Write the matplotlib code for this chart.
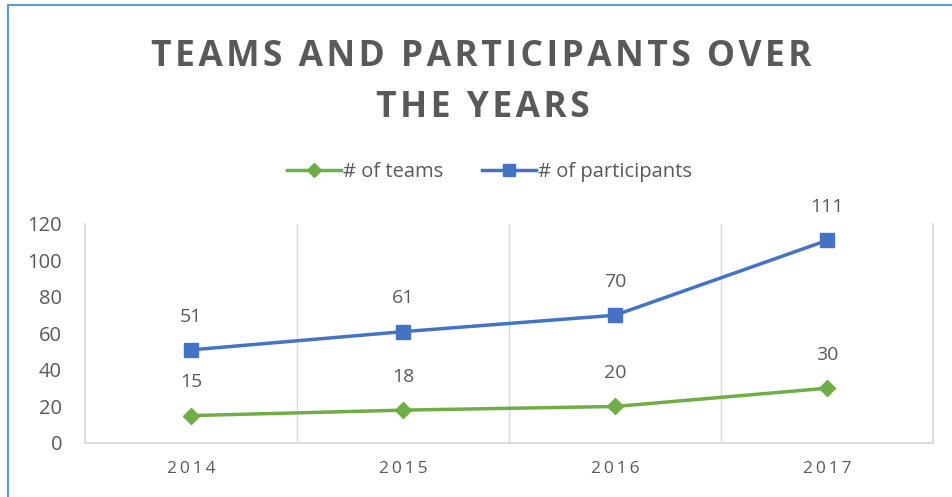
"""
Teams and participants over the years, drawn as a two-series line chart.
"""

import matplotlib
import matplotlib.pyplot as plt
from matplotlib.lines import Line2D

matplotlib.use('Agg')

years = ["2014", "2015", "2016", "2017"]
teams = [15, 18, 20, 30]
participants = [51, 61, 70, 111]
y_ticks = [0, 20, 40, 60, 80, 100, 120]

TEXT_GREY = "#595959"
GRID_GREY = "#D9D9D9"
GREEN = "#70AD47"
BLUE = "#4472C4"
FAMILY = ["Open Sans", "DejaVu Sans"]


def spaced(text, gap="\u200a"):
    """Put a small space between letters to mimic letter spacing."""
    return gap.join(text)


def plot_chart():
    fig = plt.figure(figsize=(9.52, 4.97), dpi=100)
    ax = fig.add_axes([0.0893, 0.1087, 0.8907, 0.4406])

    x = range(len(years))
    ax.plot(x, teams, color=GREEN, lw=2.5, marker="D", ms=8.5,
            label="# of teams", zorder=3)
    ax.plot(x, participants, color=BLUE, lw=2.5, marker="s", ms=10.5,
            label="# of participants", zorder=3)

    for series in (teams, participants):
        for i, v in enumerate(series):
            ax.annotate(str(v), (i, v), xytext=(0, 24), textcoords="offset points",
                        ha="center", va="center", fontsize=14, color=TEXT_GREY,
                        family=FAMILY)

    ax.set_xlim(-0.5, len(years) - 0.5)
    ax.set_ylim(0, 120)
    ax.set_yticks(y_ticks)
    ax.set_yticklabels([str(t) for t in y_ticks], fontsize=14.5, color=TEXT_GREY,
                       family=FAMILY)
    ax.set_xticks(list(x))
    ax.set_xticklabels([spaced(y, "\u2009") for y in years], fontsize=12.5,
                       color=TEXT_GREY, family=FAMILY)
    ax.tick_params(axis="both", length=0)
    ax.tick_params(axis="y", pad=16.5)
    ax.tick_params(axis="x", pad=13)

    for b in [i + 0.5 for i in range(len(years) - 1)]:
        ax.axvline(b, color=GRID_GREY, lw=1, zorder=1)
    ax.spines["top"].set_visible(False)
    for side in ["left", "right", "bottom"]:
        ax.spines[side].set_color(GRID_GREY)
        ax.spines[side].set_linewidth(1.3)

    handles = [
        Line2D([], [], color=GREEN, lw=2.5, marker="D", ms=7),
        Line2D([], [], color=BLUE, lw=2.5, marker="s", ms=9),
    ]
    fig.legend(handles, ["# of teams", "# of participants"], loc="center",
               bbox_to_anchor=(0.514, 0.654), ncol=2, frameon=False,
               prop={"family": FAMILY, "size": 14.5}, labelcolor=TEXT_GREY,
               handlelength=2.7, handletextpad=0.1, columnspacing=1.9)

    fig.text(0.506, 0.886, spaced("TEAMS AND PARTICIPANTS OVER"), ha="center",
             va="center", fontsize=25.5, fontweight="bold", color=TEXT_GREY,
             family=FAMILY)
    fig.text(0.507, 0.782, spaced("THE YEARS"), ha="center", va="center",
             fontsize=25.5, fontweight="bold", color=TEXT_GREY, family=FAMILY)

    # chart frame, only the left and top edges are in view
    fig.add_artist(Line2D([8 / 952, 8 / 952], [0, 1 - 5 / 497],
                          color="#5B9BD5", lw=1.5, transform=fig.transFigure))
    fig.add_artist(Line2D([8 / 952, 1], [1 - 5 / 497, 1 - 5 / 497],
                          color="#5B9BD5", lw=1.5, transform=fig.transFigure))

    fig.savefig("out.png", dpi=100)


if __name__ == "__main__":
    plot_chart()
